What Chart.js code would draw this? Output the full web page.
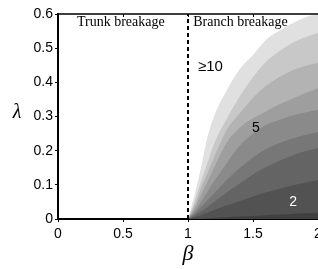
<!DOCTYPE html>
<html>
<head>
<meta charset="utf-8">
<script src="https://cdn.jsdelivr.net/npm/chart.js@4/dist/chart.umd.min.js"></script>
<style>
html,body{margin:0;padding:0;background:#fff;overflow:hidden;width:318px;height:269px;}
#wrap{position:relative;width:340px;height:269px;}
</style>
</head>
<body>
<div id="wrap"><canvas id="c" width="340" height="269"></canvas></div>
<script>
// ---- data ----
const betaGrid = [1, 1.02, 1.05, 1.1, 1.15, 1.2, 1.3, 1.4, 1.5, 1.6, 1.7, 1.8, 1.9, 2.0];
// contour boundaries lambda(beta), from lowest (darkest) to outermost
const curve1 = [0, 0.0002, 0.0005, 0.001, 0.002, 0.003, 0.005, 0.007, 0.009, 0.011, 0.013, 0.015, 0.017, 0.018];
const curve2 = [0, 0.002, 0.005, 0.011, 0.018, 0.026, 0.040, 0.053, 0.066, 0.078, 0.088, 0.098, 0.106, 0.114];
const curve3 = [0, 0.004, 0.010, 0.022, 0.035, 0.050, 0.078, 0.105, 0.130, 0.152, 0.170, 0.185, 0.198, 0.208];
const curve4 = [0, 0.006, 0.015, 0.035, 0.055, 0.075, 0.115, 0.150, 0.180, 0.205, 0.222, 0.235, 0.246, 0.255];
const curve5 = [0, 0.009, 0.022, 0.050, 0.080, 0.110, 0.165, 0.215, 0.250, 0.275, 0.290, 0.302, 0.312, 0.320];
const curve6 = [0, 0.012, 0.030, 0.070, 0.110, 0.150, 0.225, 0.268, 0.295, 0.315, 0.335, 0.352, 0.368, 0.383];
const curve7 = [0, 0.016, 0.040, 0.090, 0.135, 0.180, 0.262, 0.310, 0.355, 0.390, 0.415, 0.435, 0.448, 0.457];
const curve8 = [0, 0.020, 0.050, 0.110, 0.165, 0.220, 0.295, 0.360, 0.415, 0.460, 0.490, 0.515, 0.532, 0.545];
const curve9 = [0, 0.028, 0.070, 0.150, 0.240, 0.300, 0.378, 0.440, 0.480, 0.525, 0.550, 0.572, 0.590, 0.600];
const boundaryBeta = [1, 1];
const boundaryLambda = [0, 0.6];
const xTickValues = [0, 0.5, 1, 1.5, 2];
const xTickLabels = ['0', '0.5', '1', '1.5', '2'];
const yTickValues = [0, 0.1, 0.2, 0.3, 0.4, 0.5, 0.6];
const yTickLabels = ['0', '0.1', '0.2', '0.3', '0.4', '0.5', '0.6'];
const regionLabels = ['Trunk breakage', 'Branch breakage'];
const levelLabels = ['\u226510', '5', '2'];

// ---- styles ----
const curves = [curve1, curve2, curve3, curve4, curve5, curve6, curve7, curve8, curve9];
const bandColors = ['#404040', '#525252', '#646464', '#777777', '#8a8a8a', '#9e9e9e', '#b3b3b3', '#c8c8c8', '#e0e0e0'];

const toPts = (xs, ys) => xs.map((x, i) => ({x: x, y: ys[i]}));

const datasets = [{
  data: toPts(boundaryBeta, boundaryLambda),
  borderColor: '#000', borderWidth: 2, borderDash: [4, 3],
  pointRadius: 0, fill: false, tension: 0
}];
curves.forEach((c, i) => {
  datasets.push({
    data: toPts(betaGrid, c),
    borderWidth: 0, borderColor: bandColors[i], backgroundColor: bandColors[i],
    pointRadius: 0, fill: 'origin', cubicInterpolationMode: 'monotone'
  });
});

const textSpecs = [
  {t: regionLabels[0], x: 0.146, y: 0.577, font: '14px "Liberation Serif"', color: '#000', align: 'left'},
  {t: regionLabels[1], x: 1.04, y: 0.577, font: '14px "Liberation Serif"', color: '#000', align: 'left'},
  {t: levelLabels[0], x: 1.077, y: 0.445, font: '15px "Liberation Sans"', color: '#000', align: 'left'},
  {t: levelLabels[1], x: 1.523, y: 0.266, font: '14px "Liberation Sans"', color: '#000', align: 'center'},
  {t: levelLabels[2], x: 1.808, y: 0.05, font: '14px "Liberation Sans"', color: '#fff', align: 'center'}
];

const decor = {
  id: 'decor',
  afterDatasetsDraw(chart) {
    const ctx = chart.ctx, a = chart.chartArea, xs = chart.scales.x, ys = chart.scales.y;
    ctx.save();
    // top border with inward ticks
    ctx.strokeStyle = '#000';
    ctx.lineWidth = 1.5;
    ctx.beginPath();
    ctx.moveTo(a.left, a.top); ctx.lineTo(a.right, a.top); ctx.stroke();
    ctx.lineWidth = 1;
    xTickValues.forEach(v => {
      const px = Math.round(xs.getPixelForValue(v)) + 0.5;
      ctx.beginPath(); ctx.moveTo(px, a.top); ctx.lineTo(px, a.top + 3); ctx.stroke();
    });
    // texts
    ctx.textBaseline = 'middle';
    textSpecs.forEach(s => {
      ctx.font = s.font; ctx.fillStyle = s.color; ctx.textAlign = s.align;
      ctx.fillText(s.t, xs.getPixelForValue(s.x), ys.getPixelForValue(s.y));
    });
    // axis titles
    ctx.fillStyle = '#000';
    ctx.textAlign = 'center';
    ctx.font = 'italic 22px "Liberation Serif"';
    ctx.fillText('\u03b2', xs.getPixelForValue(1), 254);
    ctx.font = 'italic 20px "Liberation Serif"';
    ctx.fillText('\u03bb', 17, ys.getPixelForValue(0.3) - 4);
    ctx.restore();
  }
};

new Chart(document.getElementById('c'), {
  type: 'line',
  data: {datasets: datasets},
  options: {
    responsive: false, animation: false,
    layout: {padding: {top: 14, right: 22, left: 0, bottom: 0}},
    plugins: {legend: {display: false}, tooltip: {enabled: false}},
    scales: {
      x: {
        type: 'linear', min: 0, max: 2,
        afterFit: s => { s.height = 50; },
        afterBuildTicks: s => { s.ticks = xTickValues.map(v => ({value: v})); },
        ticks: {
          color: '#000', padding: 4, maxRotation: 0, autoSkip: false,
          font: {family: '"Liberation Sans"', size: 14},
          callback: (v) => xTickLabels[xTickValues.indexOf(v)]
        },
        grid: {drawOnChartArea: false, tickLength: 3, color: '#000'},
        border: {color: '#000', width: 2}
      },
      y: {
        type: 'linear', min: 0, max: 0.6,
        afterFit: s => { s.width = 58; },
        afterBuildTicks: s => { s.ticks = yTickValues.map(v => ({value: v})); },
        ticks: {
          color: '#000', padding: 2, autoSkip: false,
          font: {family: '"Liberation Sans"', size: 14},
          callback: (v) => yTickLabels[yTickValues.findIndex(t => Math.abs(t - v) < 1e-9)]
        },
        grid: {drawOnChartArea: false, tickLength: 3, color: '#000'},
        border: {color: '#000', width: 2}
      }
    }
  },
  plugins: [decor]
});
</script>
</body>
</html>
